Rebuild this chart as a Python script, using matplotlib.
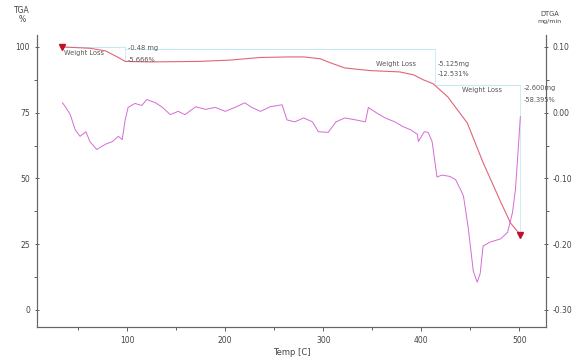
import matplotlib

matplotlib.use("Agg")
import matplotlib.pyplot as plt
from matplotlib.ticker import MultipleLocator

# TGA weight (%) against temperature (C)
tga_temp = [34, 62, 78, 91, 98, 123, 174, 205, 236, 266, 280, 297, 307, 322, 348,
            378, 392, 402, 412, 427, 443, 447, 463, 481, 491, 501]
tga_weight = [100.0, 99.5, 98.5, 96.0, 94.5, 94.3, 94.5, 95.0, 96.0, 96.2, 96.2, 95.5,
              94.0, 92.0, 91.0, 90.5, 89.4, 87.5, 86.0, 81.0, 73.0, 71.0, 56.0, 41.0,
              33.0, 28.5]

# derivative curve (mg/min)
dtga_temp = [34, 37, 42, 47, 52, 58, 62, 69, 78, 85, 91, 95, 98, 101, 108, 115, 120,
             129, 136, 144, 152, 159, 170, 180, 190, 200, 210, 220, 227, 236, 246, 258,
             263, 271, 280, 289, 295, 305, 313, 322, 333, 343, 346, 354, 363, 373, 381,
             389, 396, 397, 403, 407, 411, 416, 421, 429, 435, 440, 443, 448, 453, 457,
             460, 463, 470, 481, 488, 493, 496, 499, 501]
dtga_rate = [0.015, 0.009, -0.003, -0.026, -0.036, -0.029, -0.044, -0.056, -0.048,
             -0.044, -0.036, -0.041, -0.011, 0.008, 0.014, 0.011, 0.020, 0.015, 0.008,
             -0.003, 0.002, -0.003, 0.009, 0.005, 0.008, 0.002, 0.008, 0.015, 0.008,
             0.002, 0.009, 0.012, -0.011, -0.014, -0.008, -0.014, -0.029, -0.030,
             -0.014, -0.008, -0.011, -0.014, 0.008, 0.000, -0.008, -0.014, -0.021,
             -0.026, -0.033, -0.044, -0.029, -0.030, -0.044, -0.098, -0.095, -0.097,
             -0.102, -0.117, -0.127, -0.177, -0.241, -0.258, -0.245, -0.203, -0.197,
             -0.192, -0.182, -0.152, -0.117, -0.052, -0.006]

# weight-loss steps: (start T, end T, start %, end %, mass text, percent text)
step_start = [34, 98, 414]
step_end = [98, 414, 501]
step_w0 = [100.0, 99.2, 85.6]
step_w1 = [94.5, 85.6, 28.5]
step_mg = ["-0.48 mg", "-5.125mg", "-2.600mg"]
step_pct = ["-5.666%", "-12.531%", "-58.395%"]

fig = plt.figure(figsize=(5.77, 3.62), dpi=100)
ax = fig.add_axes([0.064, 0.097, 0.882, 0.806])
ax2 = ax.twinx()

tga_color = "#e26478"
dtga_color = "#d66ad6"
grey = "#555555"
bracket = "#c4ecef"

ax2.plot(dtga_temp, dtga_rate, color=dtga_color, lw=0.7)
ax.plot(tga_temp, tga_weight, color=tga_color, lw=0.8, zorder=3)
ax.plot([tga_temp[0], tga_temp[-1]], [tga_weight[0], tga_weight[-1]], "v",
        color="#c0102a", ms=4, zorder=4)

# label offsets below each bracket level
name_dy = [-2.2, -5.5, -2.0]
mg_dy = [-0.5, -5.5, -1.3]
pct_dy = [-5.0, -9.5, -5.8]
for i in range(len(step_start)):
    t0, t1 = step_start[i], step_end[i]
    ax.plot([t0, t1], [step_w0[i], step_w0[i]], color=bracket, lw=0.8, zorder=1)
    ax.plot([t1, t1], [step_w0[i], step_w1[i]], color=bracket, lw=0.6, zorder=1)
    ax.text(t0 + 2 if i == 0 else t1 - 60, step_w0[i] + name_dy[i], "Weight Loss",
            fontsize=4.8, color=grey, va="center")
    ax.text(t1 + 3, step_w0[i] + mg_dy[i], step_mg[i], fontsize=4.8, color=grey,
            va="center")
    ax.text(t1 + 3, step_w0[i] + pct_dy[i], step_pct[i], fontsize=4.8, color=grey,
            va="center")

ax.set_xlim(8, 527)
ax.set_ylim(-6.5, 104.5)
ax2.set_ylim(-0.326, 0.118)

ax.xaxis.set_major_locator(MultipleLocator(100))
ax.xaxis.set_minor_locator(MultipleLocator(50))
ax.yaxis.set_major_locator(MultipleLocator(25))
ax.yaxis.set_minor_locator(MultipleLocator(12.5))
ax2.yaxis.set_major_locator(MultipleLocator(0.1))
ax2.yaxis.set_minor_locator(MultipleLocator(0.05))
ax2.yaxis.set_major_formatter(plt.FuncFormatter(lambda v, p: f"{v:.2f}"))

for a in (ax, ax2):
    for s in a.spines.values():
        s.set_color("#666666")
        s.set_linewidth(0.8)
    a.spines["top"].set_visible(False)
    a.tick_params(which="both", labelsize=5.5, colors="#444444", length=3, width=0.6)
    a.tick_params(which="minor", length=2)
ax.tick_params(axis="y", direction="inout")
ax2.tick_params(axis="y", direction="inout")

ax.set_xlabel("Temp [C]", fontsize=6, color="#444444", labelpad=2)
fig.text(0.038, 0.965, "TGA", fontsize=5.5, color="#444444", ha="center")
fig.text(0.038, 0.94, "%", fontsize=5.5, color="#444444", ha="center")
fig.text(0.953, 0.957, "DTGA", fontsize=4.8, color="#444444", ha="center")
fig.text(0.953, 0.937, "mg/min", fontsize=4.5, color="#444444", ha="center")

fig.savefig("out.png", dpi=100)
